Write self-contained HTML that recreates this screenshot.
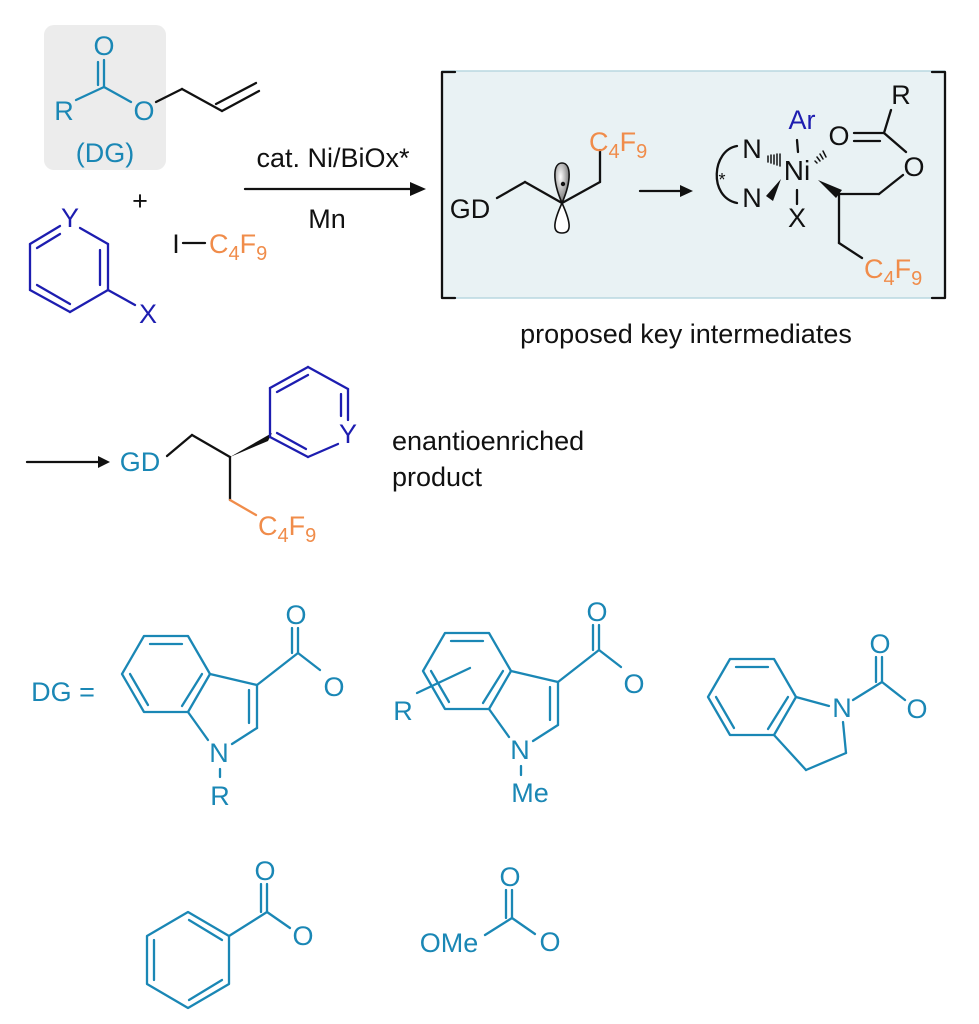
<!DOCTYPE html>
<html><head><meta charset="utf-8"><style>
html,body{margin:0;padding:0;background:#fff;}
svg{display:block;}
text{font-family:"Liberation Sans",sans-serif;}
</style></head><body>
<svg width="979" height="1024" viewBox="0 0 979 1024" xmlns="http://www.w3.org/2000/svg">
<defs><radialGradient id="lg" cx="0.4" cy="0.35" r="0.7"><stop offset="0" stop-color="#fff"/><stop offset="1" stop-color="#666"/></radialGradient></defs>
<g stroke-linecap="round" stroke-linejoin="round" fill="none" stroke-width="2.3">
<rect x="44" y="25" width="122" height="145" rx="10" fill="#ececec" stroke="none"/>
<g stroke="#1a87b5">
<line x1="104" y1="60" x2="104" y2="87"/><line x1="98" y1="62" x2="98" y2="85"/>
<line x1="76" y1="100" x2="104" y2="87"/><line x1="104" y1="87" x2="131" y2="102"/>
</g>
<g stroke="#111">
<line x1="156" y1="102" x2="182" y2="89"/><line x1="182" y1="89" x2="222" y2="111"/>
<line x1="222" y1="111" x2="259" y2="91"/><line x1="216" y1="104" x2="256" y2="83"/>
</g>
<g stroke="#1d1db0">
<line x1="60" y1="226" x2="30" y2="244"/><line x1="60" y1="234" x2="37" y2="248"/>
<line x1="30" y1="244" x2="30" y2="290"/><line x1="30" y1="290" x2="70" y2="312"/>
<line x1="37" y1="285" x2="70" y2="304"/><line x1="70" y1="312" x2="108" y2="290"/>
<line x1="108" y1="290" x2="108" y2="244"/><line x1="100" y1="285" x2="100" y2="250"/>
<line x1="108" y1="244" x2="80" y2="228"/><line x1="108" y1="290" x2="135" y2="305"/>
</g>
<line x1="183" y1="243" x2="205" y2="243" stroke="#111"/>
<line x1="245" y1="189" x2="412" y2="189" stroke="#111"/>
<polygon points="410,182 426,189 410,196" fill="#111" stroke="none"/>
<rect x="442" y="71" width="503" height="227" fill="#e9f2f4" stroke="#b9d8e0" stroke-width="1.5"/>
<g stroke="#111" stroke-width="2.3">
<polyline points="455,72 442,72 442,298 455,298"/>
<polyline points="932,72 945,72 945,298 932,298"/>
</g>
<g stroke="#111">
<line x1="497" y1="198" x2="525" y2="182"/><line x1="525" y1="182" x2="562" y2="203"/>
<line x1="562" y1="203" x2="600" y2="182"/><line x1="600" y1="182" x2="600" y2="150"/>
<line x1="640" y1="191" x2="680" y2="191"/>
</g>
<polygon points="680,185 693,191 680,197" fill="#111"/>
<path d="M562,203 C552,180 553,163 562,163 C571,163 572,180 562,203 Z" fill="url(#lg)" stroke="#111" stroke-width="1.6"/>
<path d="M562,203 C552,225 553,233 562,233 C571,233 572,225 562,203 Z" fill="#fff" stroke="#111" stroke-width="1.6"/>
<circle cx="563" cy="184" r="2.2" fill="#111" stroke="none"/>
<path d="M737,146 C712,150 708,197 737,203" stroke="#111"/>
<line x1="797" y1="140" x2="798" y2="152" stroke="#111"/>
<line x1="797" y1="190" x2="797" y2="204" stroke="#111"/>
<polygon points="766,196 781,179 773,201" fill="#111" stroke="none"/>
<g stroke="#111" stroke-width="1.5">
<line x1="768" y1="156" x2="768" y2="162"/><line x1="771" y1="155" x2="771" y2="163"/><line x1="774" y1="155" x2="774" y2="164"/><line x1="777" y1="154" x2="777" y2="165"/><line x1="780" y1="154" x2="780" y2="166"/>
<line x1="815" y1="161" x2="817" y2="163"/><line x1="817" y1="157" x2="820" y2="161"/><line x1="820" y1="154" x2="823" y2="159"/><line x1="823" y1="151" x2="826" y2="157"/>
</g>
<polygon points="818,180 836,198 842,190" fill="#111" stroke="none"/>
<g stroke="#111">
<line x1="839" y1="194" x2="879" y2="194"/><line x1="879" y1="194" x2="903" y2="175"/>
<line x1="906" y1="152" x2="884" y2="133"/><line x1="884" y1="133" x2="891" y2="110"/>
<line x1="854" y1="133" x2="884" y2="133"/><line x1="854" y1="141" x2="880" y2="141"/>
<line x1="839" y1="194" x2="839" y2="243"/><line x1="839" y1="243" x2="862" y2="258"/>
</g>
<g stroke="#111">
<line x1="27" y1="462" x2="98" y2="462"/>
<line x1="167" y1="456" x2="192" y2="435"/><line x1="192" y1="435" x2="230" y2="457"/>
<line x1="230" y1="457" x2="230" y2="500"/>
</g>
<polygon points="98,456 110,462 98,468" fill="#111"/>
<polygon points="230,457 272,433 268,441" fill="#111"/>
<line x1="230" y1="500" x2="256" y2="515" stroke="#f08c4a"/>
<g stroke="#1d1db0">
<line x1="270" y1="437" x2="270" y2="388"/><line x1="270" y1="388" x2="308" y2="367"/>
<line x1="277" y1="392" x2="308" y2="375"/><line x1="308" y1="367" x2="348" y2="389"/>
<line x1="348" y1="389" x2="348" y2="420"/><line x1="341" y1="394" x2="341" y2="416"/>
<line x1="338" y1="444" x2="308" y2="457"/><line x1="308" y1="457" x2="270" y2="437"/>
<line x1="306" y1="449" x2="277" y2="433"/>
</g>
<g stroke="#1a87b5">
<polygon points="144,636 188,636 210,674 188,712 144,712 122,674"/>
<line x1="150" y1="644" x2="182" y2="644"/><line x1="130" y1="674" x2="148" y2="705"/><line x1="202" y1="674" x2="182" y2="706"/>
<line x1="210" y1="674" x2="257" y2="685"/><line x1="257" y1="685" x2="257" y2="728"/><line x1="249" y1="690" x2="249" y2="723"/>
<line x1="257" y1="728" x2="232" y2="744"/><line x1="188" y1="712" x2="208" y2="740"/>
<line x1="220" y1="769" x2="220" y2="777"/>
<line x1="257" y1="685" x2="298" y2="653"/><line x1="298" y1="653" x2="298" y2="628"/><line x1="292" y1="653" x2="292" y2="628"/>
<line x1="298" y1="653" x2="320" y2="670"/>
<polygon points="445,633 489,633 511,671 489,709 445,709 423,671"/>
<line x1="451" y1="641" x2="483" y2="641"/><line x1="431" y1="671" x2="449" y2="702"/><line x1="503" y1="671" x2="483" y2="703"/>
<line x1="511" y1="671" x2="558" y2="682"/><line x1="558" y1="682" x2="558" y2="725"/><line x1="550" y1="687" x2="550" y2="720"/>
<line x1="558" y1="725" x2="533" y2="741"/><line x1="489" y1="709" x2="509" y2="737"/>
<line x1="521" y1="766" x2="521" y2="775"/>
<line x1="558" y1="682" x2="599" y2="650"/><line x1="599" y1="650" x2="599" y2="625"/><line x1="593" y1="650" x2="593" y2="625"/>
<line x1="599" y1="650" x2="621" y2="667"/>
<line x1="417" y1="693" x2="470" y2="668"/>
<polygon points="730,659 774,659 796,697 774,735 730,735 708,697"/>
<line x1="736" y1="667" x2="768" y2="667"/><line x1="716" y1="697" x2="734" y2="728"/><line x1="788" y1="697" x2="768" y2="729"/>
<line x1="796" y1="697" x2="829" y2="706"/><line x1="774" y1="735" x2="806" y2="770"/>
<line x1="806" y1="770" x2="846" y2="753"/><line x1="846" y1="753" x2="843" y2="722"/>
<line x1="853" y1="700" x2="882" y2="682"/><line x1="882" y1="682" x2="882" y2="657"/><line x1="876" y1="682" x2="876" y2="657"/>
<line x1="882" y1="682" x2="905" y2="700"/>
<polygon points="188,912 229,936 229,984 188,1008 147,984 147,936"/>
<line x1="189" y1="920" x2="222" y2="940"/><line x1="222" y1="980" x2="189" y2="1000"/><line x1="154" y1="940" x2="154" y2="980"/>
<line x1="229" y1="936" x2="267" y2="912"/><line x1="267" y1="912" x2="267" y2="884"/><line x1="261" y1="912" x2="261" y2="884"/>
<line x1="267" y1="912" x2="290" y2="928"/>
<line x1="485" y1="935" x2="512" y2="918"/><line x1="512" y1="918" x2="512" y2="890"/><line x1="506" y1="918" x2="506" y2="890"/>
<line x1="512" y1="918" x2="535" y2="934"/>
</g>
</g>
<g font-size="27" text-anchor="middle" fill="#1a87b5">
<text x="104" y="55">O</text><text x="64" y="120">R</text><text x="144" y="120">O</text>
<text x="105" y="162">(DG)</text>
<text x="63" y="701">DG =</text>
<text x="296" y="624">O</text><text x="334" y="696">O</text><text x="219" y="762">N</text><text x="220" y="805">R</text>
<text x="597" y="621">O</text><text x="634" y="693">O</text><text x="520" y="759">N</text><text x="530" y="802">Me</text><text x="403" y="720">R</text>
<text x="880" y="653">O</text><text x="917" y="718">O</text><text x="842" y="717">N</text>
<text x="265" y="880">O</text><text x="303" y="945">O</text>
<text x="510" y="886">O</text><text x="550" y="951">O</text><text x="449" y="952">OMe</text>
<text x="140" y="471">GD</text>
</g>
<g font-size="27" fill="#111" text-anchor="middle">
<text x="140" y="210">+</text>
<text x="176" y="253">I</text>
<text x="333" y="167">cat. Ni/BiOx*</text>
<text x="327" y="228">Mn</text>
<text x="470" y="218">GD</text>
<text x="752" y="158">N</text><text x="752" y="207">N</text>
<text x="722" y="186" font-size="18">*</text>
<text x="797" y="180" font-size="28">Ni</text>
<text x="797" y="227">X</text>
<text x="839" y="145">O</text><text x="914" y="176">O</text><text x="901" y="104">R</text>
<text x="686" y="343">proposed key intermediates</text>
</g>
<text x="802" y="129" font-size="27" text-anchor="middle" fill="#1d1db0">Ar</text>
<text x="70" y="227" font-size="27" text-anchor="middle" fill="#1d1db0">Y</text>
<text x="148" y="323" font-size="27" text-anchor="middle" fill="#1d1db0">X</text>
<text x="348" y="443" font-size="27" text-anchor="middle" fill="#1d1db0">Y</text>
<g font-size="27" fill="#111"><text x="392" y="450">enantioenriched</text><text x="392" y="486">product</text></g>
<g font-size="27" fill="#f08c4a">
<text x="209" y="253">C<tspan font-size="20" dy="7">4</tspan><tspan dy="-7">F</tspan><tspan font-size="20" dy="7">9</tspan></text>
<text x="589" y="151">C<tspan font-size="20" dy="7">4</tspan><tspan dy="-7">F</tspan><tspan font-size="20" dy="7">9</tspan></text>
<text x="864" y="278">C<tspan font-size="20" dy="7">4</tspan><tspan dy="-7">F</tspan><tspan font-size="20" dy="7">9</tspan></text>
<text x="258" y="535">C<tspan font-size="20" dy="7">4</tspan><tspan dy="-7">F</tspan><tspan font-size="20" dy="7">9</tspan></text>
</g>
</svg>
</body></html>
